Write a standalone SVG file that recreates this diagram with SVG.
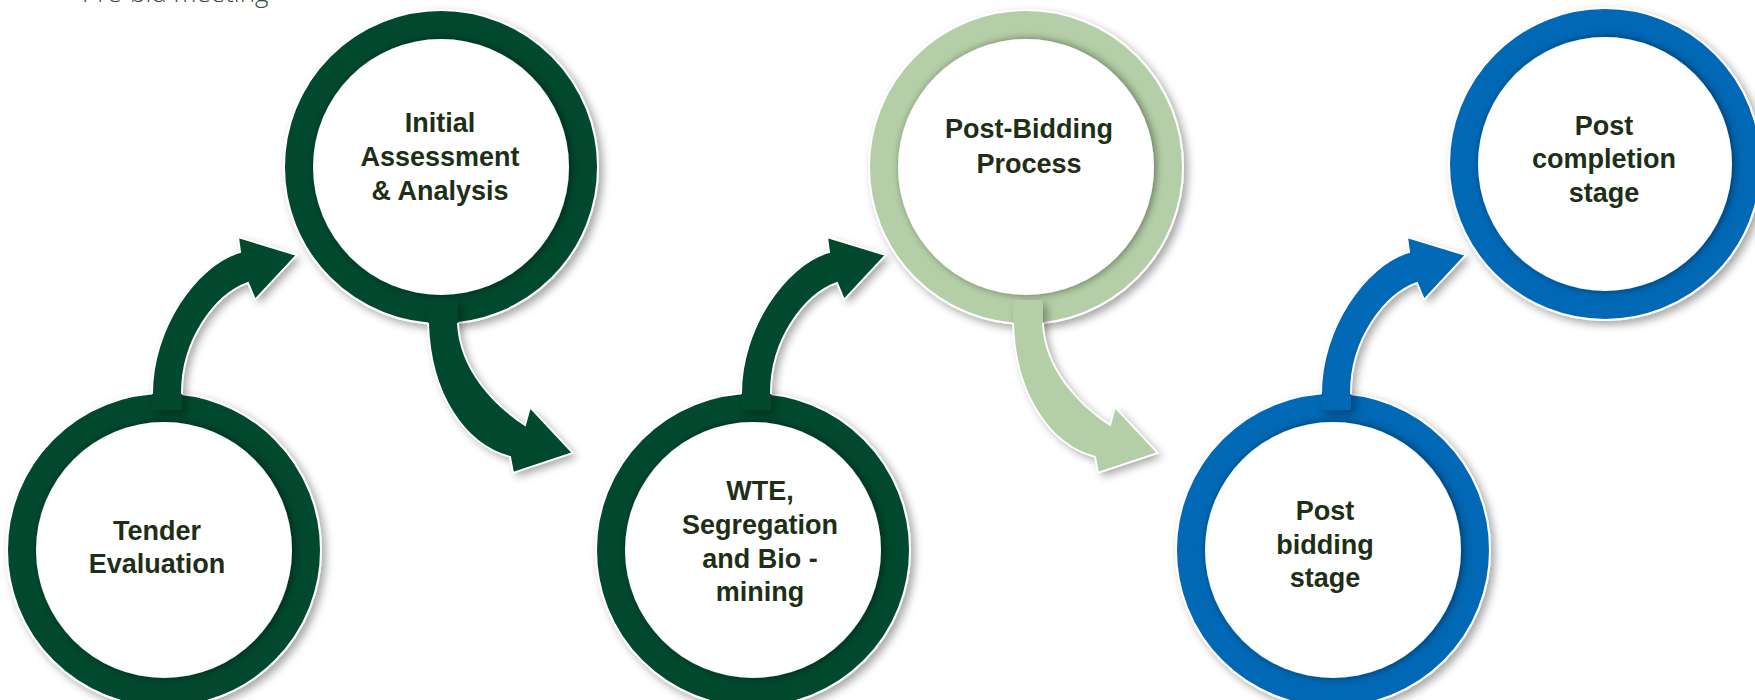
<svg xmlns="http://www.w3.org/2000/svg" xmlns:xlink="http://www.w3.org/1999/xlink" width="1755" height="700" viewBox="0 0 1755 700">
<defs>
<style>
.lbl{font-family:"Liberation Sans",Arial,sans-serif;font-weight:700;font-size:27px;fill:#1e2e17;text-anchor:middle}
.top{font-family:"Open Sans","Liberation Sans",sans-serif;font-weight:300;font-size:26px;fill:#3b4a33}
.ring{stroke:#ffffff;stroke-width:2;filter:url(#sh)}
.disc{fill:#ffffff;filter:url(#ish)}
.dg{fill:#03482f}
.lg{fill:#b4cfa7}
.bl{fill:#0568b5}
.afill{filter:url(#sh)}
.aline{fill:none;stroke:#ffffff;stroke-width:2;stroke-linejoin:miter}
</style>
<filter id="sh" x="-20%" y="-20%" width="140%" height="140%">
<feDropShadow dx="4" dy="4" stdDeviation="4" flood-color="#000" flood-opacity="0.35"/>
</filter>
<filter id="ish" x="-20%" y="-20%" width="140%" height="140%">
<feDropShadow dx="2" dy="0" stdDeviation="4" flood-color="#000" flood-opacity="0.45"/>
</filter>
<path id="upFill" d="M152,410 L152,393 C152,330 195,265 240,252 L238,237 L297,255 L255,300 L248,283 C215,295 182,340 182,393 L182,410 Z"/>
<path id="upLine" d="M152,394 L152,393 C152,330 195,265 240,252 L238,237 L297,255 L255,300 L248,283 C215,295 182,340 182,393 L182,394"/>
<path id="dnFill" d="M428,300 L428,323 C430,395 465,445 510,457 L513,473 L573,453 L530,407 L525,425 C495,405 460,370 458,323 L458,300 Z"/>
<path id="dnLine" d="M428,323 C430,395 465,445 510,457 L513,473 L573,453 L530,407 L525,425 C495,405 460,370 458,323"/>
</defs>
<rect width="1755" height="700" fill="#ffffff"/>
<text class="top" x="82" y="2">Pre-bid meeting</text>

<g id="node-tender-evaluation">
<circle class="ring dg" cx="164" cy="550" r="157"/>
<circle class="disc" cx="164" cy="550" r="128"/>
<text class="lbl" x="157" y="540">Tender</text>
<text class="lbl" x="157" y="573">Evaluation</text>
</g>
<g id="node-initial-assessment">
<circle class="ring dg" cx="441" cy="167" r="157"/>
<circle class="disc" cx="441" cy="167" r="128"/>
<text class="lbl" x="440" y="132">Initial</text>
<text class="lbl" x="440" y="166">Assessment</text>
<text class="lbl" x="440" y="200">&amp; Analysis</text>
</g>
<g id="node-wte">
<circle class="ring dg" cx="753" cy="550" r="157"/>
<circle class="disc" cx="753" cy="550" r="128"/>
<text class="lbl" x="760" y="500">WTE,</text>
<text class="lbl" x="760" y="534">Segregation</text>
<text class="lbl" x="760" y="568">and Bio -</text>
<text class="lbl" x="760" y="601">mining</text>
</g>
<g id="node-post-bidding-process">
<circle class="ring lg" cx="1026" cy="167" r="157"/>
<circle class="disc" cx="1026" cy="167" r="128"/>
<text class="lbl" x="1029" y="138">Post-Bidding</text>
<text class="lbl" x="1029" y="173">Process</text>
</g>
<g id="node-post-bidding-stage">
<circle class="ring bl" cx="1333" cy="550" r="157"/>
<circle class="disc" cx="1333" cy="550" r="128"/>
<text class="lbl" x="1325" y="520">Post</text>
<text class="lbl" x="1325" y="554">bidding</text>
<text class="lbl" x="1325" y="587">stage</text>
</g>
<g id="node-post-completion">
<circle class="ring bl" cx="1605" cy="164" r="156"/>
<circle class="disc" cx="1605" cy="164" r="127"/>
<text class="lbl" x="1604" y="135">Post</text>
<text class="lbl" x="1604" y="168">completion</text>
<text class="lbl" x="1604" y="202">stage</text>
</g>

<g id="connectors">
<g id="arrow-1">
<use xlink:href="#upFill" class="afill dg"/>
<use xlink:href="#upLine" class="aline"/>
</g>
<g id="arrow-2">
<use xlink:href="#dnFill" class="afill dg"/>
<use xlink:href="#dnLine" class="aline"/>
</g>
<g id="arrow-3" transform="translate(589,0)">
<use xlink:href="#upFill" class="afill dg"/>
<use xlink:href="#upLine" class="aline"/>
</g>
<g id="arrow-4" transform="translate(585,0)">
<use xlink:href="#dnFill" class="afill lg"/>
<use xlink:href="#dnLine" class="aline"/>
</g>
<g id="arrow-5" transform="translate(1169,0)">
<use xlink:href="#upFill" class="afill bl"/>
<use xlink:href="#upLine" class="aline"/>
</g>
</g>
</svg>
